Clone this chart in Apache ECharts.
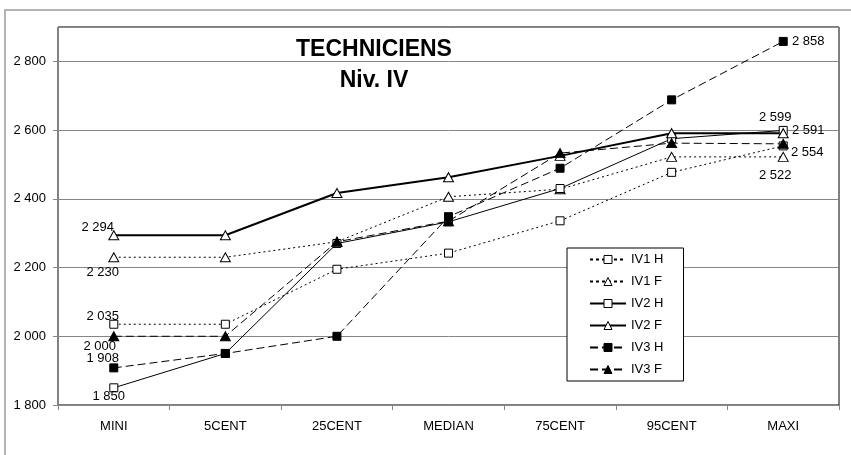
<!DOCTYPE html>
<html>
<head>
<meta charset="utf-8">
<script src="https://cdn.jsdelivr.net/npm/echarts@6/dist/echarts.min.js"></script>
<style>
  html, body { margin: 0; padding: 0; background: #fff; }
  #chart { width: 851px; height: 455px; }
</style>
</head>
<body>
<div id="chart"></div>
<script>
const categories = ["MINI", "5CENT", "25CENT", "MEDIAN", "75CENT", "95CENT", "MAXI"];
const iv1H = [2035, 2035, 2195, 2242, 2336, 2477, 2554];
const iv1F = [2230, 2230, 2275, 2406, 2428, 2522, 2522];
const iv2H = [1850, 1950, 2270, 2333, 2430, 2575, 2599];
const iv2F = [2294, 2294, 2417, 2463, 2525, 2591, 2591];
const iv3H = [1908, 1950, 2000, 2348, 2489, 2688, 2858];
const iv3F = [2000, 2000, 2275, 2335, 2533, 2562, 2560];
const yTicks = [1800, 2000, 2200, 2400, 2600, 2800];

// label offsets (dx, dy) from the point, only for labelled points
const labelOffsets = {
  "IV1 H": { 0: [-11, -8], 6: [24, 7] },
  "IV1 F": { 0: [-11, 15], 6: [-8, 19] },
  "IV2 H": { 0: [-5, 9], 6: [-8, -13] },
  "IV2 F": { 0: [-16, -8], 6: [25, -3] },
  "IV3 H": { 0: [-11, -9], 6: [25, 0] },
  "IV3 F": { 0: [-14, 10] }
};

function fmt(v) {
  return String(v).replace(/\B(?=(\d{3})+(?!\d))/g, " ");
}

function makeSeries(name, values, symbol, filled, dash, width) {
  const offs = labelOffsets[name] || {};
  return {
    name: name,
    type: "line",
    data: values.map((v, i) => {
      const o = offs[i];
      if (!o) return v;
      return {
        value: v,
        label: {
          show: true,
          position: "inside",
          offset: o,
          formatter: p => fmt(p.value),
          color: "#000",
          fontSize: 13,
          fontFamily: "Liberation Sans"
        }
      };
    }),
    symbol: symbol,
    symbolSize: symbol === "triangle" ? [10, 9] : 8,
    showAllSymbol: true,
    lineStyle: { color: "#000", width: width, type: dash },
    itemStyle: { color: filled ? "#000" : "#fff", borderColor: "#000", borderWidth: 1 },
    emphasis: { disabled: true },
    animation: false
  };
}

const chart = echarts.init(document.getElementById("chart"));
chart.setOption({
  backgroundColor: "#fff",
  animation: false,
  textStyle: { fontFamily: "Liberation Sans" },
  title: [
    {
      text: "TECHNICIENS",
      left: 369, top: 33, textAlign: "center",
      textStyle: { fontSize: 23, fontWeight: "bold", color: "#000", fontFamily: "Liberation Sans" }
    },
    {
      text: "Niv. IV",
      left: 369, top: 64, textAlign: "center",
      textStyle: { fontSize: 23, fontWeight: "bold", color: "#000", fontFamily: "Liberation Sans" }
    }
  ],
  graphic: [{
    type: "rect",
    shape: { x: 5, y: 10, width: 900, height: 600 },
    style: { fill: "none", stroke: "#9a9a9a", lineWidth: 1.5 },
    silent: true,
    z: -1
  }],
  legend: {
    orient: "vertical",
    left: 567, top: 248,
    backgroundColor: "#fff",
    borderColor: "#000",
    borderWidth: 1,
    padding: [5, 20, 5, 22],
    itemWidth: 36,
    itemHeight: 10,
    itemGap: 9,
    itemStyle: { borderWidth: 1 },
    textStyle: { fontSize: 13, color: "#000", fontFamily: "Liberation Sans" },
    data: [
      { name: "IV1 H", lineStyle: { type: [3, 3] } },
      { name: "IV1 F", lineStyle: { type: [3, 3] } },
      "IV2 H",
      { name: "IV2 F", lineStyle: { width: 2 } },
      "IV3 H",
      "IV3 F"
    ],
    z: 10
  },
  grid: {
    left: 58, top: 27, right: 12, bottom: 50,
    show: true, borderColor: "#000", borderWidth: 1
  },
  xAxis: {
    type: "category",
    data: categories,
    boundaryGap: true,
    axisLine: { lineStyle: { color: "#868686" } },
    axisTick: { show: true, length: 5, lineStyle: { color: "#868686" } },
    axisLabel: { color: "#000", fontSize: 13, margin: 15, fontFamily: "Liberation Sans" }
  },
  yAxis: {
    type: "value",
    min: 1800, max: 2900, interval: 200,
    axisLine: { show: true, lineStyle: { color: "#868686" } },
    axisTick: { show: true, length: 5, lineStyle: { color: "#868686" } },
    splitLine: { lineStyle: { color: "#868686", width: 1 } },
    axisLabel: {
      color: "#000", fontSize: 13, margin: 12, fontFamily: "Liberation Sans",
      showMaxLabel: false,
      formatter: v => (yTicks.indexOf(v) >= 0 ? fmt(v) : "")
    }
  },
  series: [
    makeSeries("IV1 H", iv1H, "rect", false, [2, 3], 1),
    makeSeries("IV1 F", iv1F, "triangle", false, [2, 3], 1),
    makeSeries("IV2 H", iv2H, "rect", false, "solid", 1),
    makeSeries("IV2 F", iv2F, "triangle", false, "solid", 2),
    makeSeries("IV3 H", iv3H, "rect", true, [8, 4], 1),
    makeSeries("IV3 F", iv3F, "triangle", true, [8, 4], 1)
  ]
});
</script>
</body>
</html>
